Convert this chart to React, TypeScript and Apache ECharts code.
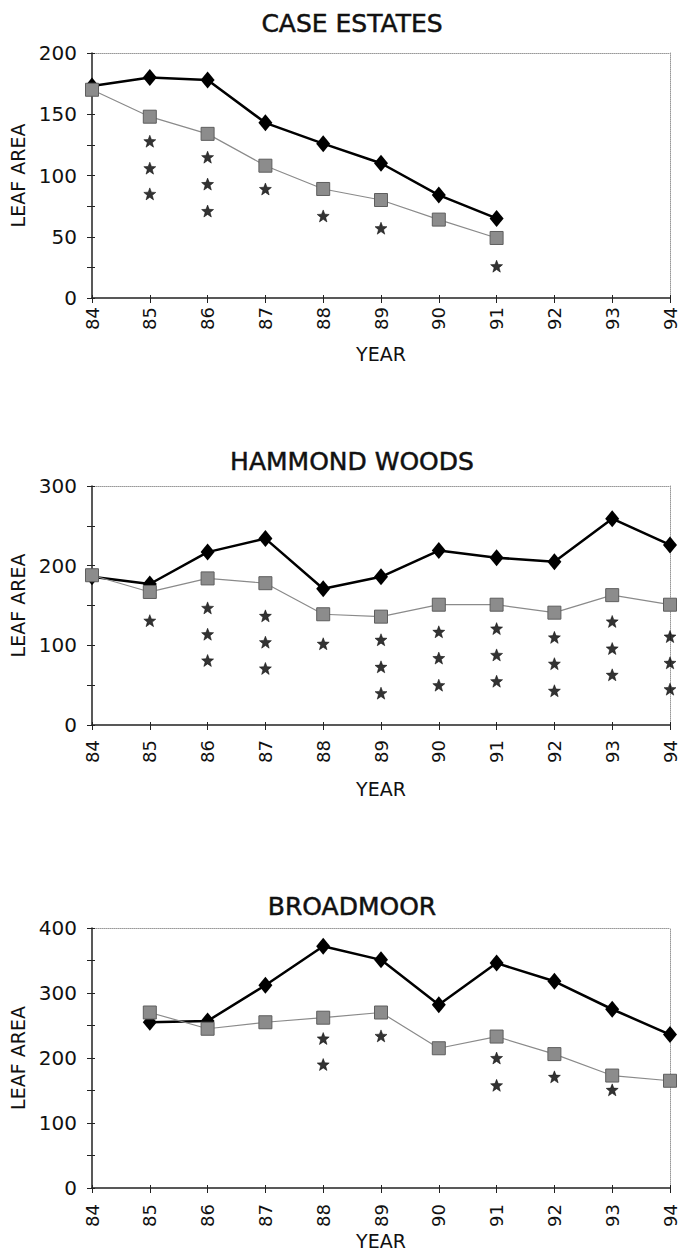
import React, { useEffect, useRef } from "react";
import * as echarts from "echarts";

const FONT = "'DejaVu Sans', 'Liberation Sans', sans-serif";

const titles = ["CASE ESTATES", "HAMMOND WOODS", "BROADMOOR"];

const caseYears = [84, 85, 86, 87, 88, 89, 90, 91];
const caseDiamond = [173, 180, 178, 143, 126, 110, 84, 65];
const caseSquare = [170, 148, 134, 108, 89, 80, 64, 49];
const caseStars = [
  [85, 128], [85, 106], [85, 85],
  [86, 115], [86, 93], [86, 71],
  [87, 89], [88, 67], [89, 57], [91, 26],
];

const hamYears = [84, 85, 86, 87, 88, 89, 90, 91, 92, 93, 94];
const hamDiamond = [186, 177, 217, 234, 171, 186, 219, 210, 205, 259, 226];
const hamSquare = [188, 167, 184, 178, 139, 136, 151, 151, 141, 163, 151];
const hamStars = [
  [85, 131],
  [86, 147], [86, 114], [86, 81],
  [87, 137], [87, 104], [87, 71],
  [88, 102],
  [89, 107], [89, 73], [89, 40],
  [90, 117], [90, 84], [90, 50],
  [91, 121], [91, 88], [91, 55],
  [92, 110], [92, 77], [92, 43],
  [93, 130], [93, 96], [93, 63],
  [94, 111], [94, 78], [94, 45],
];

const brYears = [85, 86, 87, 88, 89, 90, 91, 92, 93, 94];
const brDiamond = [255, 257, 312, 372, 351, 282, 346, 318, 275, 236];
const brSquare = [270, 245, 255, 262, 270, 215, 233, 206, 173, 165];
const brStars = [
  [88, 230], [88, 190], [89, 234],
  [91, 200], [91, 158], [92, 171], [93, 151],
];

const yMax = [200, 300, 400];
const yTickStep = [25, 50, 50];
const yLabelStep = [50, 100, 100];

const STAR = "path://M50,0 L63,33 L98,35 L70,58 L80,93 L50,73 L20,93 L30,58 L2,35 L37,33 Z";

const panels = [
  { years: caseYears, dia: caseDiamond, sq: caseSquare, stars: caseStars, top: 53, height: 245, titleTop: 6, nameGap: 46, labelMargin: 9 },
  { years: hamYears, dia: hamDiamond, sq: hamSquare, stars: hamStars, top: 486, height: 239, titleTop: 444, nameGap: 54, labelMargin: 15 },
  { years: brYears, dia: brDiamond, sq: brSquare, stars: brStars, top: 928, height: 260, titleTop: 889, nameGap: 43, labelMargin: 16 },
];

export default function App() {
  const ref = useRef<HTMLDivElement>(null);
  useEffect(() => {
    if (!ref.current) return;
    const chart = echarts.init(ref.current, null, { renderer: "svg" });
    const grid: any[] = [];
    const xAxis: any[] = [];
    const yAxis: any[] = [];
    const series: any[] = [];
    const title: any[] = [];
    panels.forEach((p, i) => {
      grid.push({ left: 92, top: p.top, width: 580, height: p.height, containLabel: false });
      title.push({
        text: titles[i], left: 347, top: p.titleTop, textAlign: "center",
        textStyle: { fontFamily: FONT, fontSize: 25, fontWeight: "normal", color: "#111", textBorderColor: "#111", textBorderWidth: 0.5 },
      });
      const xBase = { gridIndex: i, type: "value", min: 84, max: 94, interval: 1, splitLine: { show: false } };
      xAxis.push({
        ...xBase, position: "bottom",
        axisLine: { show: true, onZero: false, lineStyle: { color: "#222", width: 1.5 } },
        axisTick: { show: true, length: 5, lineStyle: { color: "#222" } },
        axisLabel: { rotate: 90, margin: p.labelMargin, fontFamily: FONT, fontSize: 18, color: "#111" },
        name: "YEAR", nameLocation: "middle", nameGap: p.nameGap,
        nameTextStyle: { fontFamily: FONT, fontSize: 19, color: "#111" },
      });
      xAxis.push({
        ...xBase, position: "bottom",
        axisLine: { show: false, onZero: false },
        axisTick: { show: true, inside: true, length: 3, lineStyle: { color: "#222" } },
        axisLabel: { show: false },
      });
      xAxis.push({
        ...xBase, position: "top",
        axisLine: { show: true, onZero: false, lineStyle: { color: "#999", type: "dotted", width: 1 } },
        axisTick: { show: false }, axisLabel: { show: false },
      });
      const step = yLabelStep[i];
      const yBase = { gridIndex: i, type: "value", min: 0, max: yMax[i], interval: yTickStep[i], splitLine: { show: false } };
      yAxis.push({
        ...yBase, position: "left",
        axisLine: { show: true, onZero: false, lineStyle: { color: "#222", width: 1.5 } },
        axisTick: { show: true, length: 5, lineStyle: { color: "#222" } },
        axisLabel: {
          margin: 15, fontFamily: FONT, fontSize: 20, color: "#111",
          formatter: (v: number) => (v % step === 0 ? String(v) : ""),
        },
        name: "LEAF AREA", nameLocation: "middle", nameGap: 61, nameRotate: 90,
        nameTextStyle: { fontFamily: FONT, fontSize: 19, color: "#111" },
      });
      yAxis.push({
        ...yBase, position: "left",
        axisLine: { show: false, onZero: false },
        axisTick: { show: true, inside: true, length: 3, lineStyle: { color: "#222" } },
        axisLabel: { show: false },
      });
      yAxis.push({
        ...yBase, position: "right",
        axisLine: { show: true, onZero: false, lineStyle: { color: "#999", type: "dotted", width: 1 } },
        axisTick: { show: false }, axisLabel: { show: false },
      });
      const xi = i * 3;
      series.push({
        type: "line", xAxisIndex: xi, yAxisIndex: xi,
        data: p.years.map((y, k) => [y, p.dia[k]]),
        symbol: "diamond", symbolSize: [14, 17], showSymbol: true,
        lineStyle: { color: "#000", width: 2.5 },
        itemStyle: { color: "#000" }, z: 3,
      });
      series.push({
        type: "line", xAxisIndex: xi, yAxisIndex: xi,
        data: p.years.map((y, k) => [y, p.sq[k]]),
        symbol: "rect", symbolSize: 13, showSymbol: true,
        lineStyle: { color: "#8a8a8a", width: 1.2 },
        itemStyle: { color: "#8c8c8c", borderColor: "#5e5e5e", borderWidth: 1 }, z: 4,
      });
      series.push({
        type: "scatter", xAxisIndex: xi, yAxisIndex: xi,
        data: p.stars,
        symbol: STAR, symbolSize: 12,
        itemStyle: { color: "#000", borderColor: "#000", borderWidth: 0.6 }, z: 5,
      });
    });
    chart.setOption({
      animation: false,
      backgroundColor: "#fff",
      title, grid, xAxis, yAxis, series,
    });
    return () => chart.dispose();
  }, []);
  return (
    <div
      ref={ref}
      style={{ position: "absolute", left: 0, top: 0, width: 679, height: 1252 }}
    />
  );
}
